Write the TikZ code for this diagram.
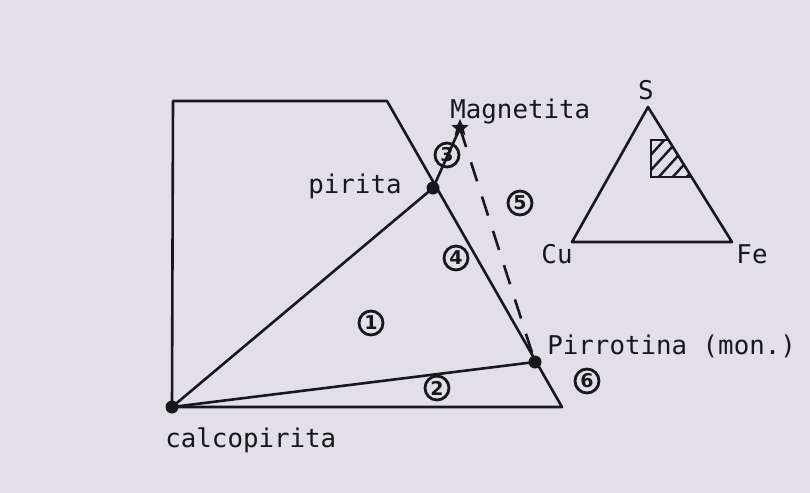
\documentclass[tikz,border=0pt]{standalone}
\usepackage{fontspec}
\setmonofont{DejaVu Sans Mono}
\setsansfont{DejaVu Sans}
\usetikzlibrary{shapes.geometric}
\definecolor{papel}{RGB}{226,223,230}
\definecolor{tinta}{RGB}{24,24,28}
\begin{document}
\begin{tikzpicture}[
  x=0.5pt, y=-0.5pt,
  linha/.style={line width=1.3pt, draw=tinta},
  fase/.style={circle, fill=tinta, inner sep=0pt, minimum size=6.5pt},
  rotulo/.style={font=\fontsize{12.9}{15}\selectfont\ttfamily, inner sep=0pt, text=tinta},
  campo/.style={circle, draw=tinta, line width=1.4pt, inner sep=0pt, minimum size=12pt,
    font=\fontsize{9.5}{10}\selectfont\sffamily\bfseries, text=tinta}
]

% fundo e margens
\fill[papel] (0,0) rectangle (810,493);

% contorno do diagrama
\coordinate (sup esq) at (173,101);
\coordinate (sup dir) at (387,101);
\coordinate (inf dir) at (562,407);
\coordinate (inf esq) at (172,407);

\node[fase] (calco) at (172,407) {};
\node[fase] (pirita) at (433,188) {};
\node[fase] (pirro) at (535,362) {};
\node[star, star points=5, star point ratio=2.2, fill=tinta, inner sep=0pt, minimum size=9pt] (magne) at (460,128) {};

\draw[linha, line join=round] (inf esq) -- (sup esq) -- (sup dir) -- (inf dir) -- cycle;
\draw[linha] (calco.center) -- (pirita.center);
\draw[linha] (calco.center) -- (pirro.center);
\draw[linha] (pirita.center) -- (magne.center);
\draw[linha, dash pattern=on 10pt off 8pt] (magne.center) -- (pirro.center);

% nomes das fases
\node[rotulo, anchor=base west] (t magne) at (450,118) {Magnetita};
\node[rotulo, anchor=base west] (t pirita) at (308,193) {pirita};
\node[rotulo, anchor=base west] (t pirro) at (547,354) {Pirrotina (mon.)};
\node[rotulo, anchor=base west] (t calco) at (165,447) {calcopirita};

% campos numerados
\node[campo] (c1) at (371,323) {1};
\node[campo] (c2) at (437,388) {2};
\node[campo] (c3) at (447,155) {3};
\node[campo] (c4) at (456,258) {4};
\node[campo] (c5) at (520,203) {5};
\node[campo] (c6) at (587,381) {6};

% triangulo Cu-Fe-S
\coordinate (S) at (648,107);
\coordinate (Cu) at (572,242);
\coordinate (Fe) at (732,242);
\draw[linha, line join=round] (S) -- (Cu) -- (Fe) -- cycle;
\node[rotulo] (t S) at (646,90) {S};
\node[rotulo] (t Cu) at (557,254) {Cu};
\node[rotulo] (t Fe) at (752,254) {Fe};

\begin{scope}
  \clip (651,140) -- (668.5,140) -- (691.5,177) -- (651,177) -- cycle;
  \foreach \x in {628,642,656,670,684}
    \draw[line width=1.2pt, tinta] (\x,180) -- (\x+40,136);
\end{scope}
\draw[linha] (668.5,140) -- (651,140) -- (651,177) -- (691.5,177);

\end{tikzpicture}
\end{document}
